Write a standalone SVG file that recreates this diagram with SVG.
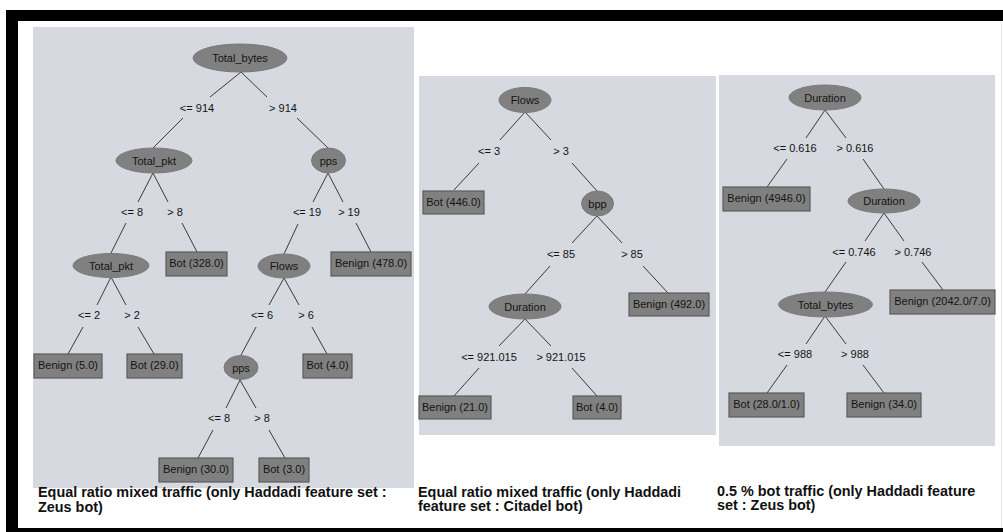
<svg xmlns="http://www.w3.org/2000/svg" width="1003" height="532" viewBox="0 0 1003 532">
<style>
.panel{fill:#d6d9e0}
.frame{fill:#000}
.en ellipse{fill:#808080;stroke:#7a7a7a;stroke-width:1}
.leaf rect{fill:#808080;stroke:#5c5c5c;stroke-width:1.2}
.nt{font-family:"Liberation Sans",Arial,sans-serif;font-size:11px;fill:#141414;text-anchor:middle}
.lbl{font-family:"Liberation Sans",Arial,sans-serif;font-size:11px;fill:#141414;text-anchor:middle}
#connectors line{stroke:#3a3a3a;stroke-width:1}
.cap{font-family:"Liberation Sans",Arial,sans-serif;font-size:14.4px;font-weight:bold;fill:#111}
</style>
<rect x="0" y="0" width="1003" height="532" fill="#fff"/>
<g id="frame">
<rect class="frame" x="6" y="10" width="997" height="11"/>
<rect class="frame" x="6" y="10" width="12" height="522"/>
<rect class="frame" x="6" y="528" width="997" height="4"/>
<line x1="1001.5" y1="21" x2="1001.5" y2="528" stroke="#e6e6e6" stroke-width="1"/>
</g>
<g id="panels">
<rect class="panel" x="33" y="27" width="381" height="461"/>
<rect class="panel" x="419" y="76" width="297" height="359"/>
<rect class="panel" x="719" y="75" width="276" height="371"/>
</g>
<g id="connectors">
<!-- panel 1 -->
<line x1="241" y1="72" x2="210" y2="97"/><line x1="183" y1="118" x2="153" y2="148"/>
<line x1="241" y1="72" x2="267" y2="97"/><line x1="297" y1="118" x2="328" y2="148"/>
<line x1="153" y1="173" x2="138" y2="202"/><line x1="126" y1="223" x2="111" y2="253"/>
<line x1="153" y1="173" x2="168" y2="202"/><line x1="182" y1="223" x2="197" y2="252"/>
<line x1="328" y1="173" x2="313" y2="202"/><line x1="298" y1="224" x2="284" y2="254"/>
<line x1="328" y1="173" x2="343" y2="202"/><line x1="356" y1="223" x2="371" y2="252"/>
<line x1="111" y1="277" x2="97" y2="305"/><line x1="83" y1="327" x2="68" y2="354"/>
<line x1="111" y1="277" x2="126" y2="305"/><line x1="138" y1="327" x2="154" y2="354"/>
<line x1="284" y1="278" x2="269" y2="305"/><line x1="256" y1="327" x2="241" y2="355"/>
<line x1="284" y1="278" x2="299" y2="305"/><line x1="312" y1="327" x2="327" y2="354"/>
<line x1="240" y1="380" x2="226" y2="408"/><line x1="213" y1="430" x2="198" y2="458"/>
<line x1="240" y1="380" x2="256" y2="408"/><line x1="269" y1="430" x2="285" y2="458"/>
<!-- panel 2 -->
<line x1="525" y1="112" x2="500" y2="140"/><line x1="479" y1="163" x2="454" y2="190"/>
<line x1="525" y1="112" x2="551" y2="140"/><line x1="572" y1="163" x2="597" y2="191"/>
<line x1="597" y1="216" x2="572" y2="243"/><line x1="550" y1="266" x2="525" y2="294"/>
<line x1="597" y1="216" x2="622" y2="243"/><line x1="643" y1="266" x2="668" y2="293"/>
<line x1="525" y1="319" x2="499" y2="346"/><line x1="479" y1="368" x2="454" y2="396"/>
<line x1="525" y1="319" x2="551" y2="346"/><line x1="572" y1="368" x2="597" y2="396"/>
<!-- panel 3 -->
<line x1="825" y1="110" x2="806" y2="138"/><line x1="787" y1="159" x2="767" y2="187"/>
<line x1="825" y1="110" x2="846" y2="138"/><line x1="863" y1="159" x2="884" y2="189"/>
<line x1="884" y1="213" x2="865" y2="241"/><line x1="846" y1="262" x2="825" y2="292"/>
<line x1="884" y1="213" x2="904" y2="241"/><line x1="922" y1="262" x2="943" y2="290"/>
<line x1="825" y1="316" x2="806" y2="344"/><line x1="787" y1="365" x2="767" y2="393"/>
<line x1="825" y1="316" x2="846" y2="344"/><line x1="863" y1="365" x2="884" y2="393"/>
</g>
<g id="edge-labels">
<text class="lbl" x="197" y="112">&lt;= 914</text><text class="lbl" x="283" y="112">&gt; 914</text>
<text class="lbl" x="132" y="216">&lt;= 8</text><text class="lbl" x="175" y="216">&gt; 8</text>
<text class="lbl" x="307" y="216">&lt;= 19</text><text class="lbl" x="349" y="216">&gt; 19</text>
<text class="lbl" x="89" y="319">&lt;= 2</text><text class="lbl" x="132" y="319">&gt; 2</text>
<text class="lbl" x="262" y="319">&lt;= 6</text><text class="lbl" x="306" y="319">&gt; 6</text>
<text class="lbl" x="219" y="422">&lt;= 8</text><text class="lbl" x="262" y="422">&gt; 8</text>
<text class="lbl" x="489" y="155">&lt;= 3</text><text class="lbl" x="561" y="155">&gt; 3</text>
<text class="lbl" x="561" y="258">&lt;= 85</text><text class="lbl" x="632" y="258">&gt; 85</text>
<text class="lbl" x="489" y="361">&lt;= 921.015</text><text class="lbl" x="561" y="361">&gt; 921.015</text>
<text class="lbl" x="795" y="152">&lt;= 0.616</text><text class="lbl" x="855" y="152">&gt; 0.616</text>
<text class="lbl" x="854" y="256">&lt;= 0.746</text><text class="lbl" x="913" y="256">&gt; 0.746</text>
<text class="lbl" x="795" y="358">&lt;= 988</text><text class="lbl" x="855" y="358">&gt; 988</text>
</g>
<!-- panel 1 nodes -->
<g id="p1-total-bytes" class="en"><ellipse cx="240" cy="58" rx="47" ry="14"/><text class="nt" x="240" y="62">Total_bytes</text></g>
<g id="p1-total-pkt" class="en"><ellipse cx="154" cy="160.5" rx="38" ry="12.5"/><text class="nt" x="154" y="164.5">Total_pkt</text></g>
<g id="p1-pps" class="en"><ellipse cx="328.5" cy="160.5" rx="17" ry="12.5"/><text class="nt" x="328.5" y="164.5">pps</text></g>
<g id="p1-bot-328" class="leaf"><rect x="166" y="252" width="61" height="24"/><text class="nt" x="196.5" y="267">Bot (328.0)</text></g>
<g id="p1-benign-478" class="leaf"><rect x="331" y="252" width="80" height="24"/><text class="nt" x="371" y="267">Benign (478.0)</text></g>
<g id="p1-total-pkt2" class="en"><ellipse cx="111" cy="265.5" rx="38" ry="12"/><text class="nt" x="111" y="269.5">Total_pkt</text></g>
<g id="p1-flows" class="en"><ellipse cx="284" cy="266" rx="26" ry="12"/><text class="nt" x="284" y="270">Flows</text></g>
<g id="p1-benign-5" class="leaf"><rect x="34" y="354" width="68" height="24"/><text class="nt" x="68" y="369">Benign (5.0)</text></g>
<g id="p1-bot-29" class="leaf"><rect x="127" y="354" width="55" height="24"/><text class="nt" x="154.5" y="369">Bot (29.0)</text></g>
<g id="p1-pps2" class="en"><ellipse cx="241" cy="367.5" rx="17" ry="12"/><text class="nt" x="241" y="371.5">pps</text></g>
<g id="p1-bot-4" class="leaf"><rect x="303" y="354" width="49" height="24"/><text class="nt" x="327.5" y="369">Bot (4.0)</text></g>
<g id="p1-benign-30" class="leaf"><rect x="159" y="458" width="74" height="24"/><text class="nt" x="196" y="473">Benign (30.0)</text></g>
<g id="p1-bot-3" class="leaf"><rect x="259" y="458" width="50" height="24"/><text class="nt" x="284" y="473">Bot (3.0)</text></g>
<!-- panel 2 nodes -->
<g id="p2-flows" class="en"><ellipse cx="525" cy="100" rx="26" ry="12.5"/><text class="nt" x="525" y="104">Flows</text></g>
<g id="p2-bot-446" class="leaf"><rect x="423" y="191" width="61" height="23"/><text class="nt" x="453.5" y="205.5">Bot (446.0)</text></g>
<g id="p2-bpp" class="en"><ellipse cx="597.5" cy="203.5" rx="16" ry="12.5"/><text class="nt" x="597.5" y="207.5">bpp</text></g>
<g id="p2-benign-492" class="leaf"><rect x="629" y="293" width="80" height="23"/><text class="nt" x="669" y="307.5">Benign (492.0)</text></g>
<g id="p2-duration" class="en"><ellipse cx="525" cy="306.5" rx="36" ry="12.5"/><text class="nt" x="525" y="310.5">Duration</text></g>
<g id="p2-benign-21" class="leaf"><rect x="419" y="396" width="72" height="23"/><text class="nt" x="455" y="410.5">Benign (21.0)</text></g>
<g id="p2-bot-4" class="leaf"><rect x="573" y="396" width="48" height="23"/><text class="nt" x="597" y="410.5">Bot (4.0)</text></g>
<!-- panel 3 nodes -->
<g id="p3-duration" class="en"><ellipse cx="825" cy="97.5" rx="36" ry="12.5"/><text class="nt" x="825" y="101.5">Duration</text></g>
<g id="p3-benign-4946" class="leaf"><rect x="723" y="187" width="87" height="24"/><text class="nt" x="766.5" y="202">Benign (4946.0)</text></g>
<g id="p3-duration2" class="en"><ellipse cx="884" cy="201" rx="36" ry="12"/><text class="nt" x="884" y="205">Duration</text></g>
<g id="p3-benign-2042" class="leaf"><rect x="890" y="290" width="105" height="24"/><text class="nt" x="942.5" y="305">Benign (2042.0/7.0)</text></g>
<g id="p3-total-bytes" class="en"><ellipse cx="825.5" cy="304.5" rx="47" ry="12.5"/><text class="nt" x="825.5" y="308.5">Total_bytes</text></g>
<g id="p3-bot-28" class="leaf"><rect x="729" y="393" width="75" height="24"/><text class="nt" x="766.5" y="408">Bot (28.0/1.0)</text></g>
<g id="p3-benign-34" class="leaf"><rect x="847" y="393" width="74" height="24"/><text class="nt" x="884" y="408">Benign (34.0)</text></g>
<g id="captions">
<text class="cap" x="38" y="497">Equal ratio mixed traffic (only Haddadi feature set :</text>
<text class="cap" x="38" y="511.5">Zeus bot)</text>
<text class="cap" x="418" y="497">Equal ratio mixed traffic (only Haddadi</text>
<text class="cap" x="418" y="511">feature set : Citadel bot)</text>
<text class="cap" x="717" y="495.5">0.5 % bot traffic (only Haddadi feature</text>
<text class="cap" x="717" y="510">set : Zeus bot)</text>
</g>
</svg>
